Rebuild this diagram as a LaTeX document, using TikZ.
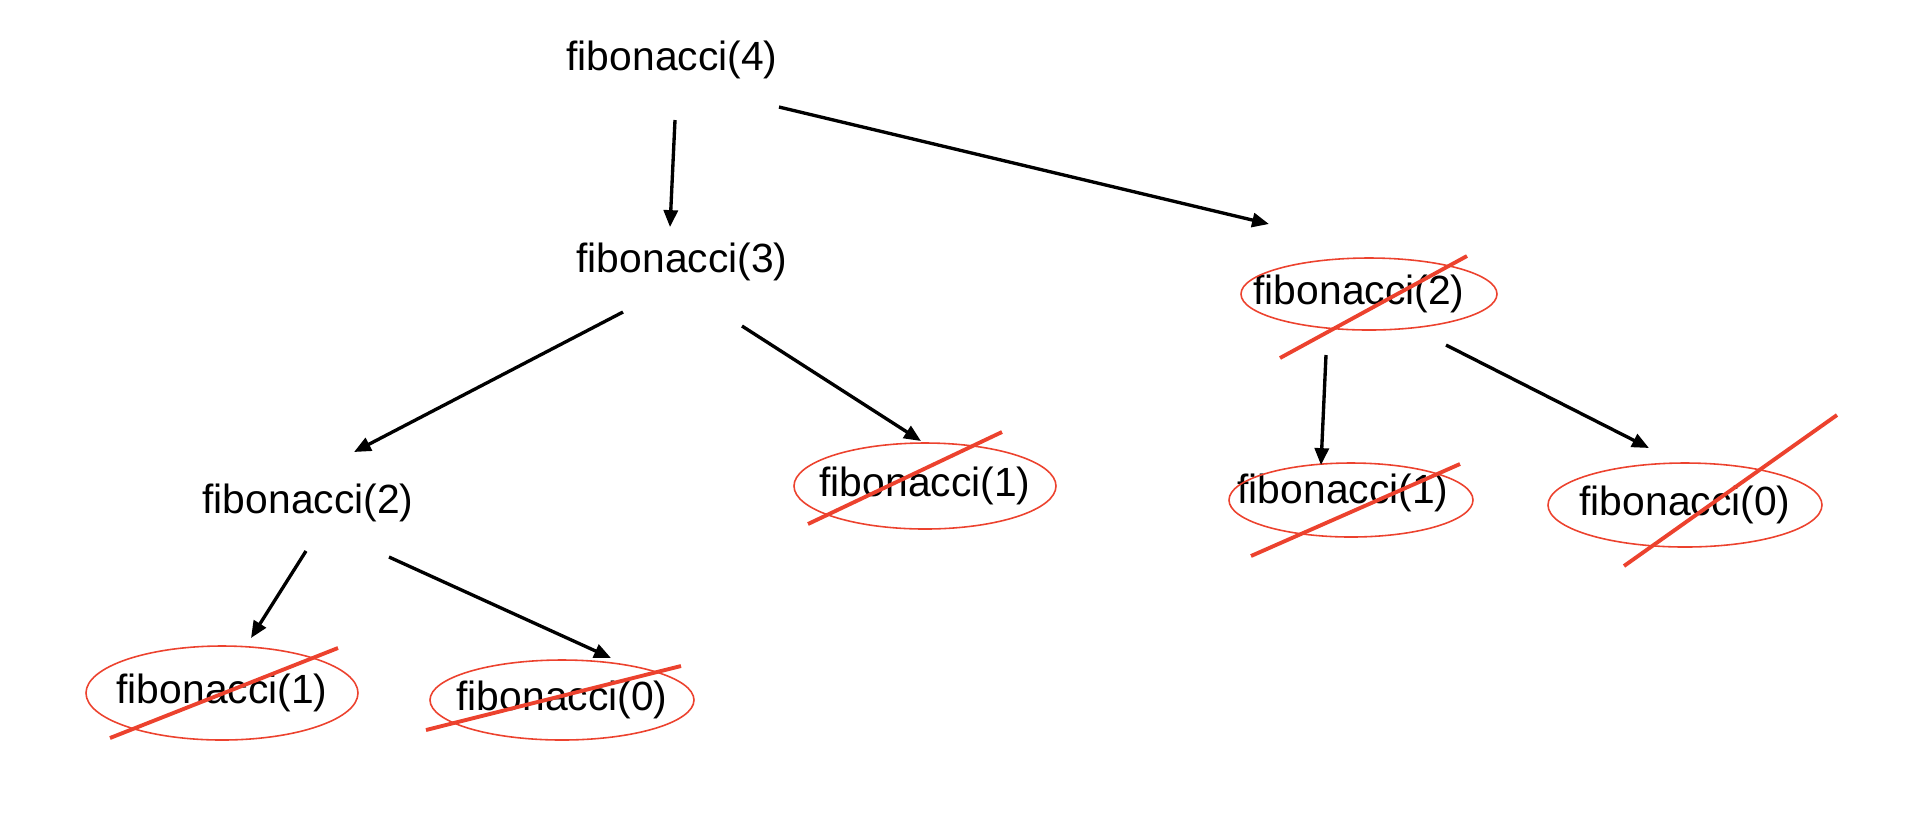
\documentclass[tikz,border=0pt]{standalone}
\usepackage{fontspec}
\setmainfont{Liberation Sans}
\usetikzlibrary{arrows.meta}

\definecolor{cutred}{RGB}{236,66,46}

\begin{document}
\begin{tikzpicture}[
    x=0.01cm, y=-0.01cm,
    call/.style={
        font=\fontsize{11.6pt}{14pt}\selectfont,
        inner sep=0pt
    },
    ring/.style={
        draw=cutred,
        line width=0.45pt
    },
    cut/.style={
        draw=cutred,
        line width=1.1pt
    },
    arrow/.style={
        -{Triangle[length=4.8pt, width=4pt]},
        line width=0.95pt
    }
]
\useasboundingbox (0,0) rectangle (1920,820);

% === Calls that are computed ===
\node[call] (fib4) at (672,60) {fibonacci(4)};
\node[call] (fib3) at (682,262) {fibonacci(3)};
\node[call] (fib2l) at (308,503) {fibonacci(2)};

% === Calls that are crossed out ===
\node[call] (f2r) at (1359,294) {fibonacci(2)};
\node[call] (f1m) at (925,486) {fibonacci(1)};
\node[call] (f1r) at (1343,493) {fibonacci(1)};
\node[call] (f0r) at (1685,505) {fibonacci(0)};
\node[call] (f1bl) at (222,693) {fibonacci(1)};
\node[call] (f0b) at (562,700) {fibonacci(0)};

\draw[ring] ([shift={(10,0)}]f2r.center) ellipse [x radius=128, y radius=36];
\draw[ring] (f1m) ellipse [x radius=131, y radius=43];
\draw[ring] ([shift={(8,7)}]f1r.center) ellipse [x radius=122, y radius=37];
\draw[ring] (f0r) ellipse [x radius=137, y radius=42];
\draw[ring] (f1bl) ellipse [x radius=136, y radius=47];
\draw[ring] (f0b) ellipse [x radius=132, y radius=40];

% === Arrows ===
\draw[arrow] ([shift={(3,60)}]fib4.center) -- ([shift={(-12,-35)}]fib3.center);
\draw[arrow] ([shift={(107,47)}]fib4.center) -- ([shift={(-90,-70)}]f2r.center);
\draw[arrow] ([shift={(-59,50)}]fib3.center) -- ([shift={(46,-51)}]fib2l.center);
\draw[arrow] ([shift={(60,64)}]fib3.center) -- ([shift={(-4,-45)}]f1m.center);
\draw[arrow] ([shift={(-2,48)}]fib2l.center) -- ([shift={(29,-55)}]f1bl.center);
\draw[arrow] ([shift={(81,54)}]fib2l.center) -- ([shift={(49,-42)}]f0b.center);
\draw[arrow] ([shift={(-33,61)}]f2r.center) -- ([shift={(-22,-28)}]f1r.center);
\draw[arrow] ([shift={(87,51)}]f2r.center) -- ([shift={(-36,-57)}]f0r.center);

% === Strike lines ===
\draw[cut] ([shift={(-79,64)}]f2r.center) -- ([shift={(108,-38)}]f2r.center);
\draw[cut] ([shift={(-117,38)}]f1m.center) -- ([shift={(77,-54)}]f1m.center);
\draw[cut] ([shift={(-92,63)}]f1r.center) -- ([shift={(117,-29)}]f1r.center);
\draw[cut] ([shift={(-61,61)}]f0r.center) -- ([shift={(152,-90)}]f0r.center);
\draw[cut] ([shift={(-112,45)}]f1bl.center) -- ([shift={(116,-45)}]f1bl.center);
\draw[cut] ([shift={(-136,30)}]f0b.center) -- ([shift={(119,-34)}]f0b.center);

\end{tikzpicture}
\end{document}
